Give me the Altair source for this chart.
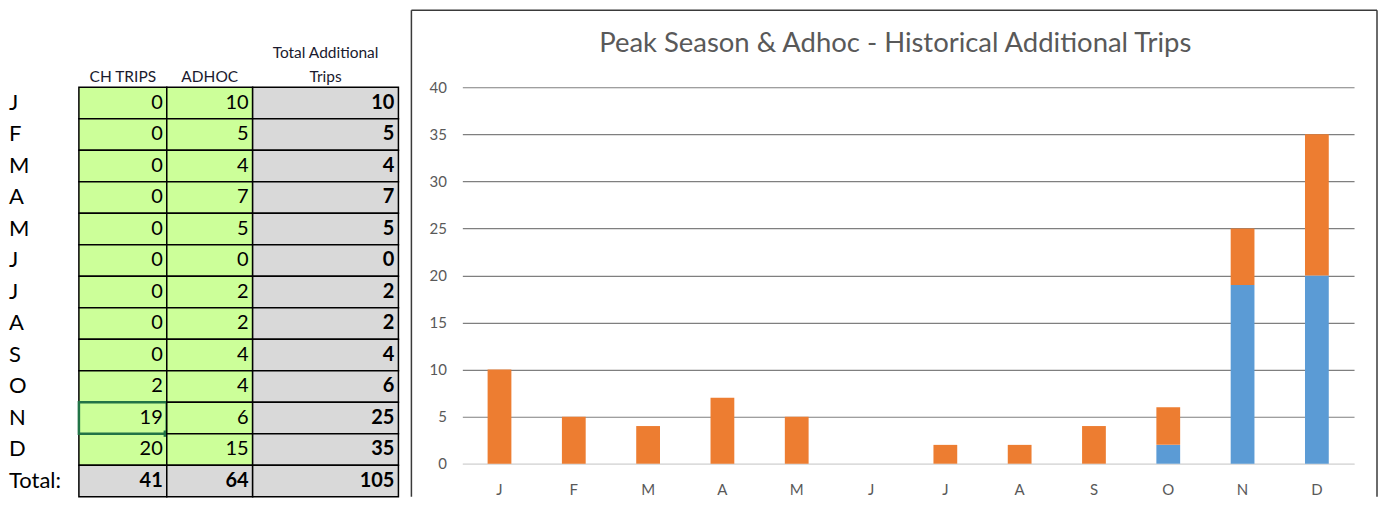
import altair as alt
import pandas as pd

# ---- data ----
months = ["J", "F", "M", "A", "M", "J", "J", "A", "S", "O", "N", "D"]
ch_trips = [0, 0, 0, 0, 0, 0, 0, 0, 0, 2, 19, 20]
adhoc = [10, 5, 4, 7, 5, 0, 2, 2, 4, 4, 6, 15]
series_names = ["CH TRIPS", "ADHOC"]
title_text = "Peak Season & Adhoc - Historical Additional Trips"
header_ch = "CH TRIPS"
header_adhoc = "ADHOC"
header_total = ["Total Additional", "Trips"]
total_label = "Total:"
y_ticks = [0, 5, 10, 15, 20, 25, 30, 35, 40]

FONT = "Lato"
GREEN = "#CCFF99"
GRAY = "#D9D9D9"
BLUE = "#5B9BD5"
ORANGE = "#ED7D31"
TXT = "#595959"

# ---- table data ----
rows = []
for i, (m, c, a) in enumerate(zip(months, ch_trips, adhoc)):
    rows.append({"row": i, "label": m, "ch": c, "adhoc": a, "total": c + a})
rows.append({"row": len(months), "label": total_label, "ch": sum(ch_trips),
             "adhoc": sum(adhoc), "total": sum(ch_trips) + sum(adhoc)})
tdf = pd.DataFrame(rows)
LAST = len(months)

TH = 410  # table body height
y_enc = alt.Y("row:O", axis=None, scale=alt.Scale(paddingInner=0, paddingOuter=0))


def header(text):
    return alt.TitleParams(text=text, font=FONT, fontSize=15.5, fontWeight="normal",
                           color="#1a1a2e", anchor="middle", baseline="bottom",
                           offset=-14, lineHeight=24)


label_panel = alt.Chart(tdf).mark_text(
    align="left", baseline="middle", font=FONT, fontSize=22, color="black"
).encode(y=y_enc, x=alt.value(-2), text="label:N").properties(width=68, height=TH)


def num_panel(field, width, head, all_gray=False, selected_row=None):
    base = alt.Chart(tdf).encode(y=y_enc)
    fill = alt.value(GRAY) if all_gray else alt.condition(
        alt.datum.row == LAST, alt.value(GRAY), alt.value(GREEN))
    rect = base.mark_rect(stroke="black", strokeWidth=1.5).encode(fill=fill)
    normal = base.transform_filter(alt.datum.row < LAST).mark_text(
        align="right", baseline="middle", font=FONT, fontSize=20, color="black",
        fontWeight="bold" if all_gray else "normal"
    ).encode(x=alt.value(width - 4), text=alt.Text(f"{field}:Q"))
    bold = base.transform_filter(alt.datum.row == LAST).mark_text(
        align="right", baseline="middle", font=FONT, fontSize=20, color="black",
        fontWeight="bold"
    ).encode(x=alt.value(width - 4), text=alt.Text(f"{field}:Q"))
    layers = [rect, normal, bold]
    if selected_row is not None:
        sel = base.transform_filter(alt.datum.row == selected_row).mark_rect(
            stroke="#217346", strokeWidth=2.5, fillOpacity=0
        ).encode()
        handle = base.transform_filter(alt.datum.row == selected_row).mark_square(
            size=40, color="#217346", opacity=1
        ).encode(y=alt.Y("row:O", axis=None, bandPosition=1,
                         scale=alt.Scale(paddingInner=0, paddingOuter=0)),
                 x=alt.value(width))
        layers += [sel, handle]
    return alt.layer(*layers).properties(width=width, height=TH, title=header(head))


ch_panel = num_panel("ch", 88, header_ch, selected_row=10)
adhoc_panel = num_panel("adhoc", 86, header_adhoc)
total_panel = num_panel("total", 146, header_total, all_gray=True)

one = pd.DataFrame({"t": [title_text]})
spacer = alt.Chart(one).mark_point(opacity=0).properties(width=64, height=TH)

# ---- bar chart ----
bar_rows = []
for i, (c, a) in enumerate(zip(ch_trips, adhoc)):
    bar_rows.append({"mi": i, "series": series_names[0], "value": c})
    bar_rows.append({"mi": i, "series": series_names[1], "value": a})
bdf = pd.DataFrame(bar_rows)

W, H = 893, 377
label_expr = "[" + ",".join(f"'{m}'" for m in months) + "][datum.value]"

bars = alt.Chart(bdf).mark_bar().encode(
    x=alt.X("mi:O", title=None,
            scale=alt.Scale(paddingInner=0.68, paddingOuter=0.34),
            axis=alt.Axis(labelExpr=label_expr, labelAngle=0, ticks=False,
                          labelColor=TXT, labelFont=FONT, labelFontSize=15,
                          labelPadding=19, domainColor="#D9D9D9", domainWidth=1,
                          grid=False)),
    y=alt.Y("value:Q", title=None, stack="zero",
            scale=alt.Scale(domain=[0, 40], nice=False),
            axis=alt.Axis(values=y_ticks, domain=False, ticks=False,
                          labelColor=TXT, labelFont=FONT, labelFontSize=15,
                          labelPadding=16,
                          gridColor={"condition": {"test": "datum.value === 0", "value": "#D9D9D9"},
                                     "value": "#7F7F7F"},
                          gridWidth=1.2)),
    color=alt.Color("series:N", legend=None,
                    scale=alt.Scale(domain=series_names, range=[BLUE, ORANGE])),
    order=alt.Order("series:N", sort="descending"),
)

BORDER = "#3A3A3A"
top_rule = alt.Chart(one).mark_rule(color=BORDER, strokeWidth=1.5).encode(
    x=alt.value(-51), x2=alt.value(W + 23), y=alt.value(-77))
left_rule = alt.Chart(one).mark_rule(color=BORDER, strokeWidth=1.5).encode(
    x=alt.value(-51), y=alt.value(-77), y2=alt.value(TH))
right_rule = alt.Chart(one).mark_rule(color=BORDER, strokeWidth=1.5).encode(
    x=alt.value(W + 23), y=alt.value(-77), y2=alt.value(TH))
title_mark = alt.Chart(one).mark_text(
    font=FONT, fontSize=27.5, color=TXT, baseline="middle", align="center"
).encode(x=alt.value(W / 2 - 13), y=alt.value(-43), text="t:N")

bar_chart = alt.layer(bars, top_rule, left_rule, right_rule, title_mark).properties(
    width=W, height=H)

chart = alt.hconcat(
    label_panel, ch_panel, adhoc_panel, total_panel, spacer, bar_chart,
    spacing=0, bounds="flush"
).properties(padding=0, background="white").configure(
    font=FONT
).configure_view(stroke="transparent")

chart.save("out.html", embed_options={"renderer": "svg", "actions": False})
